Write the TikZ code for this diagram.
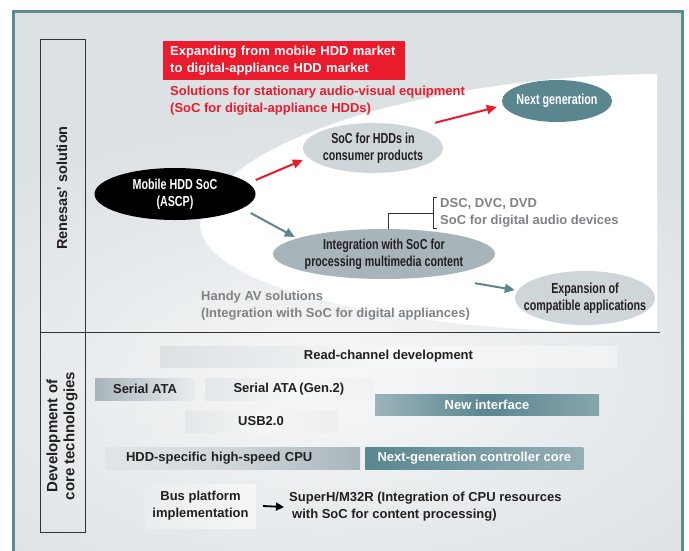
\documentclass[tikz,border=0pt]{standalone}
\usepackage{fontspec}
\setmainfont{Liberation Sans}
\newfontfamily\narrowsf[FakeStretch=0.74]{Liberation Sans}
\usetikzlibrary{arrows.meta, positioning, shapes.geometric, calc}

\definecolor{framecol}{HTML}{5E8B93}
\definecolor{bgcol}{HTML}{DCE1E4}
\definecolor{redcol}{HTML}{E91B2D}
\definecolor{tealcol}{HTML}{5A868F}
\definecolor{lightoval}{HTML}{CFD6DA}
\definecolor{midoval}{HTML}{A7B5BB}
\definecolor{darktext}{HTML}{231F20}
\definecolor{graytext}{HTML}{808285}
\definecolor{linecol}{HTML}{333333}

\begin{document}
\begin{tikzpicture}[
    x=1pt, y=-1pt,
    every node/.style={font=\fontsize{13}{17}\selectfont\bfseries, text=darktext},
    oval/.style={ellipse, inner xsep=-30pt, inner ysep=-10pt, align=center,
                 font=\narrowsf\fontsize{14.5}{17}\selectfont\bfseries},
    redbox/.style={rectangle, fill=redcol, text=white, align=left,
                   text width=228pt, minimum height=39pt, inner xsep=7pt},
    graynote/.style={text=graytext, align=left},
    bar/.style={rectangle, minimum height=21pt, inner sep=0pt},
    redarrow/.style={draw=redcol, line width=2pt, -{Triangle[length=10pt,width=9pt]}},
    tealarrow/.style={draw=tealcol, line width=2pt, -{Triangle[length=10pt,width=9pt]}},
    blkarrow/.style={draw=black, line width=1.8pt, -{Triangle[length=8pt,width=8pt]}},
    frameline/.style={draw=linecol, line width=1pt},
    brk/.style={draw=linecol, line width=0.9pt}
]
    \useasboundingbox (0,0) rectangle (689,550);
    \fill[white] (0,0) rectangle (689,550);

    % background and white area
    \begin{scope}
        \clip (13,11) rectangle (683,551);
        \fill[bgcol] (13,11) rectangle (683,551);
        \shade[inner color=white!75!bgcol, outer color=bgcol] (330,380) ellipse [x radius=500, y radius=260];
    \end{scope}
    \fill[white] (657,74) .. controls (450,75) and (215,135) .. (200,225)
        .. controls (205,290) and (400,325) .. (560,331) -- (657,331) -- cycle;
    \draw[framecol, line width=3pt] (13.5,551) |- (682.5,11.5) -- (682.5,551);
    \draw[frameline] (40,39) rectangle (85,532);
    \draw[frameline] (40,332) -- (660,332);

    % left column
    \node[rotate=90, font=\fontsize{14.5}{17}\selectfont\bfseries] (renesas) at (62,188)
        {Renesas\textquotesingle\ solution};
    \node[rotate=90, align=center, font=\fontsize{15}{17}\selectfont\bfseries] (devcore) at (62,436)
        {Development of\\core technologies};

    % solution area
    \node[redbox, anchor=north west] (expand) at (163,41)
        {Expanding from mobile HDD market\\to digital-appliance HDD market};
    \node[text=redcol, align=left, inner xsep=7pt, inner ysep=0pt,
          below=5pt of expand.south west, anchor=north west] (stationary)
        {Solutions for stationary audio-visual equipment\\(SoC for digital-appliance HDDs)};

    \node[oval, fill=black, text=white, minimum width=161pt, minimum height=52pt] (mob) at (175,194)
        {Mobile HDD SoC\\(ASCP)};
    \node[oval, fill=lightoval, minimum width=140pt, minimum height=50pt] (soc) at (373,148)
        {SoC for HDDs in\\consumer products};
    \node[oval, fill=tealcol, text=white, minimum width=110pt, minimum height=42pt] (nxt) at (557,101)
        {Next generation};
    \node[oval, fill=midoval, minimum width=222pt, minimum height=50pt] (integ) at (384,254)
        {Integration with SoC for\\processing multimedia content};
    \node[oval, fill=lightoval, minimum width=140pt, minimum height=54pt] (expn) at (585,298)
        {Expansion of\\compatible applications};

    \node[graynote, anchor=west, inner xsep=7pt, inner ysep=1pt] (dsc) at (433,213)
        {DSC, DVC, DVD\\SoC for digital audio devices};
    \node[graynote, anchor=west, inner sep=0pt] (handy) at (201,306)
        {Handy AV solutions\\(Integration with SoC for digital appliances)};

    \draw[redarrow] ([yshift=14pt]mob.east) -- ([yshift=-12pt]soc.west);
    \draw[redarrow] ([xshift=62pt]soc.north) -- ([xshift=-5pt,yshift=-6pt]nxt.west);
    \draw[tealarrow] ([xshift=-5pt,yshift=-19pt]mob.east) -- ([xshift=22pt,yshift=17pt]integ.west);
    \draw[tealarrow] ([xshift=91pt,yshift=-4pt]integ.south) -- ([yshift=8pt]expn.west);
    \draw[brk] ([xshift=4pt]integ.north) |- (dsc.west);
    \draw[brk] ([xshift=4pt]dsc.north west) -- (dsc.north west) -- (dsc.south west)
        -- ([xshift=4pt]dsc.south west);

    % core technologies
    \node[bar, minimum width=457pt, left color=bgcol, right color=white!55!bgcol,
          middle color=white!75!bgcol] (readch) at (388.5,356.5) {Read-channel development};
    \node[bar, minimum width=100pt, minimum height=22pt, left color=midoval,
          right color=white!40!bgcol] (sata) at (145,389) {Serial ATA};
    \node[bar, minimum width=167pt, minimum height=22pt, right=10pt of sata, left color=bgcol!80!white,
          right color=white!55!bgcol, middle color=white!70!bgcol] (sata2) {Serial ATA\,(Gen.2)};
    \node[bar, minimum width=152pt, left color=bgcol!80!white, right color=white!45!bgcol,
          middle color=white!70!bgcol] (usb) at (261,421.5) {USB2.0};
    \node[bar, minimum width=224pt, text=white, left color=tealcol!50!bgcol, right color=tealcol!65!bgcol,
          middle color=tealcol] (newif) at (487,404.5) {New interface};
    \node[bar, minimum height=22pt, text width=213pt, align=left, inner xsep=21pt,
          left color=bgcol!85!white, right color=midoval, middle color=bgcol!75!midoval] (cpu) at (232.5,458)
        {HDD-specific high-speed CPU};
    \node[bar, minimum width=218pt, minimum height=22pt, right=5pt of cpu, text=white,
          left color=tealcol, right color=tealcol!55!bgcol] (nxtcore) {Next-generation controller core};
    \node[bar, minimum width=111pt, minimum height=44pt, align=center,
          left color=bgcol!60!white, right color=white!70!bgcol] (bus) at (200.5,506)
        {Bus platform\\implementation};
    \node[align=left, inner sep=0pt, anchor=west] (superh) at (289,507)
        {SuperH/M32R (Integration of CPU resources\\\hspace*{3pt}with SoC for content processing)};
    \draw[blkarrow] ([xshift=7pt]bus.east) -- ([xshift=-5pt]superh.west);
\end{tikzpicture}
\end{document}
